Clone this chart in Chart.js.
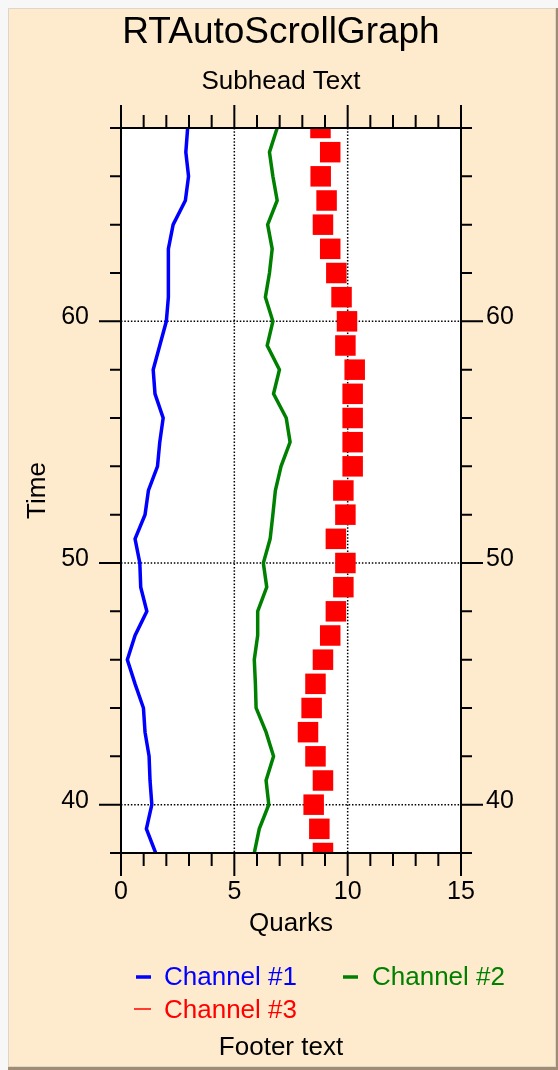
<!DOCTYPE html>
<html><head><meta charset="utf-8">
<script src="https://cdn.jsdelivr.net/npm/chart.js@4.4.1/dist/chart.umd.min.js"></script>
<style>html,body{margin:0;padding:0;background:#fff;} #wrap{position:relative;width:558px;height:1070px;} canvas{display:block;}</style>
</head><body><div id="wrap"><canvas id="c" width="558" height="1070"></canvas></div>
<script>
// ---- data ----
const times = [38,39,40,41,42,43,44,45,46,47,48,49,50,51,52,53,54,55,56,57,58,59,60,61,62,63,64,65,66,67,68];
const channel1 = [1.53,1.12,1.36,1.28,1.24,1.06,0.99,0.62,0.28,0.62,1.14,0.87,0.83,0.62,1.06,1.21,1.61,1.71,1.86,1.50,1.42,1.71,2.00,2.09,2.09,2.09,2.30,2.84,2.98,2.86,2.94];
const channel2 = [5.88,6.10,6.52,6.40,6.73,6.40,5.96,5.93,5.88,6.03,6.03,6.43,6.28,6.58,6.70,6.81,7.06,7.46,7.29,6.73,6.99,6.45,6.70,6.37,6.55,6.67,6.47,6.89,6.70,6.55,6.89];
const channel3 = [8.91,8.75,8.50,8.91,8.58,8.25,8.41,8.58,8.91,9.23,9.48,9.81,9.90,9.48,9.90,9.81,10.22,10.22,10.22,10.22,10.31,9.90,9.97,9.73,9.50,9.23,8.91,9.07,8.81,9.23,8.80];
const seriesNames = ['Channel #1','Channel #2','Channel #3'];
const xTickValues = [0,5,10,15];
const xTickLabels = ['0','5','10','15'];
const yTickValues = [40,50,60];
const yTickLabels = ['40','50','60'];
const titleText = 'RTAutoScrollGraph';
const subheadText = 'Subhead Text';
const footerText = 'Footer text';
const xAxisTitle = 'Quarks';
const yAxisTitle = 'Time';

const FONT = "'Liberation Sans', Arial, sans-serif";
const pts = vals => times.map((t, i) => ({x: vals[i], y: t}));

const yLabel = v => { const i = yTickValues.indexOf(v); return [i >= 0 ? yTickLabels[i] : '', '']; };
const xLabel = v => { const i = xTickValues.indexOf(v); return i >= 0 ? xTickLabels[i] : ''; };

const decor = {
  id: 'decor',
  beforeDraw(chart) {
    const ctx = chart.ctx, a = chart.chartArea;
    ctx.save();
    ctx.fillStyle = '#f7f7f7'; ctx.fillRect(0, 0, 558, 1070);
    ctx.fillStyle = '#9f8c72'; ctx.fillRect(8, 8, 550, 1062);
    ctx.fillStyle = '#ddd6cc'; ctx.fillRect(8, 8, 548, 1059);
    ctx.fillStyle = '#feebcd'; ctx.fillRect(9, 9, 546, 1057);
    ctx.fillStyle = '#ffffff'; ctx.fillRect(a.left, a.top, a.right - a.left, a.bottom - a.top);
    ctx.restore();
  },
  beforeDatasetsDraw(chart) {
    const ctx = chart.ctx, a = chart.chartArea, xs = chart.scales.x, ys = chart.scales.y;
    ctx.save();
    ctx.strokeStyle = '#000'; ctx.lineWidth = 1.5; ctx.setLineDash([1.5, 1.8]);
    xTickValues.forEach(v => { if (v > xs.min && v < xs.max) { const p = xs.getPixelForValue(v); ctx.beginPath(); ctx.moveTo(p, a.top); ctx.lineTo(p, a.bottom); ctx.stroke(); }});
    yTickValues.forEach(v => { if (v > ys.min && v < ys.max) { const p = ys.getPixelForValue(v); ctx.beginPath(); ctx.moveTo(a.left, p); ctx.lineTo(a.right, p); ctx.stroke(); }});
    ctx.restore();
  },
  afterDatasetsDraw(chart) {
    const ctx = chart.ctx, a = chart.chartArea, xs = chart.scales.x, ys = chart.scales.y;
    ctx.save();
    ctx.strokeStyle = '#000'; ctx.lineWidth = 2;
    ctx.strokeRect(a.left, a.top, a.right - a.left, a.bottom - a.top);
    for (let v = xs.min; v <= xs.max; v += 1) {
      const p = xs.getPixelForValue(v); const len = xTickValues.includes(v) ? 23 : 13;
      ctx.beginPath(); ctx.moveTo(p, a.bottom); ctx.lineTo(p, a.bottom + len);
      ctx.moveTo(p, a.top); ctx.lineTo(p, a.top - len); ctx.stroke();
    }
    for (let v = ys.min; v <= ys.max; v += 2) {
      const p = ys.getPixelForValue(v); const len = yTickValues.includes(v) ? 22 : 11;
      ctx.beginPath(); ctx.moveTo(a.left, p); ctx.lineTo(a.left - len, p);
      ctx.moveTo(a.right, p); ctx.lineTo(a.right + len, p); ctx.stroke();
    }
    ctx.restore();
  },
  afterDraw(chart) {
    const ctx = chart.ctx;
    ctx.save();
    ctx.textBaseline = 'alphabetic';
    ctx.fillStyle = '#000'; ctx.textAlign = 'center';
    ctx.font = '37px ' + FONT; ctx.fillText(titleText, 281, 43);
    ctx.font = '26px ' + FONT; ctx.fillText(subheadText, 281, 89);
    ctx.fillText(footerText, 281, 1055);
    const lay = [
      {m1: 136, m2: 151, my: 977, tx: 164, ty: 985, lw: 3.5},
      {m1: 343, m2: 358, my: 977, tx: 372, ty: 985, lw: 3.5},
      {m1: 134, m2: 151, my: 1009, tx: 164, ty: 1018, lw: 1.5}
    ];
    ctx.textAlign = 'left'; ctx.font = '26px ' + FONT;
    chart.data.datasets.forEach((ds, i) => {
      const L = lay[i]; const col = ds.legendColor;
      ctx.strokeStyle = col; ctx.lineWidth = L.lw;
      ctx.beginPath(); ctx.moveTo(L.m1, L.my); ctx.lineTo(L.m2, L.my); ctx.stroke();
      ctx.fillStyle = col; ctx.fillText(ds.label, L.tx, L.ty);
    });
    ctx.restore();
  }
};

new Chart(document.getElementById('c'), {
  type: 'scatter',
  data: {
    datasets: [
      {label: seriesNames[0], data: pts(channel1), showLine: true, borderColor: '#0000ff', legendColor: '#0000ff', borderWidth: 3.5, pointRadius: 0, tension: 0},
      {label: seriesNames[1], data: pts(channel2), showLine: true, borderColor: '#008000', legendColor: '#008000', borderWidth: 3.5, pointRadius: 0, tension: 0},
      {label: seriesNames[2], data: pts(channel3), showLine: false, backgroundColor: '#ff0000', borderColor: '#ff2020', legendColor: '#ff0000', borderWidth: 0, pointStyle: 'rect', pointRadius: 14.5, clip: 0}
    ]
  },
  options: {
    responsive: false, animation: false, events: [],
    layout: {padding: {top: 128, left: 0, right: 0, bottom: 0}},
    plugins: {legend: {display: false}, title: {display: false}, tooltip: {enabled: false}},
    scales: {
      x: {
        type: 'linear', position: 'bottom', min: 0, max: 15,
        afterBuildTicks: s => { s.ticks = xTickValues.map(v => ({value: v})); },
        afterFit: s => { s.height = 217; },
        grid: {display: false, drawTicks: false}, border: {display: false},
        ticks: {callback: xLabel, padding: 24, color: '#000', font: {family: FONT, size: 25}, maxRotation: 0, autoSkip: false},
        title: {display: true, text: xAxisTitle, color: '#000', font: {family: FONT, size: 26}, padding: {top: 0, bottom: 131}}
      },
      y: {
        type: 'linear', position: 'left', min: 38, max: 68,
        afterBuildTicks: s => { s.ticks = yTickValues.map(v => ({value: v})); },
        afterFit: s => { s.width = 121; },
        grid: {display: false, drawTicks: false}, border: {display: false},
        ticks: {callback: yLabel, padding: 32, color: '#000', font: {family: FONT, size: 25, lineHeight: '8px'}, autoSkip: false},
        title: {display: true, text: yAxisTitle, color: '#000', font: {family: FONT, size: 26}, padding: {top: 22, bottom: 0}}
      },
      y2: {
        type: 'linear', position: 'right', min: 38, max: 68,
        afterBuildTicks: s => { s.ticks = yTickValues.map(v => ({value: v})); },
        afterFit: s => { s.width = 97; },
        grid: {display: false, drawTicks: false}, border: {display: false},
        ticks: {callback: yLabel, padding: 25, color: '#000', font: {family: FONT, size: 25, lineHeight: '8px'}, autoSkip: false}
      }
    }
  },
  plugins: [decor]
});
</script>
</body></html>
